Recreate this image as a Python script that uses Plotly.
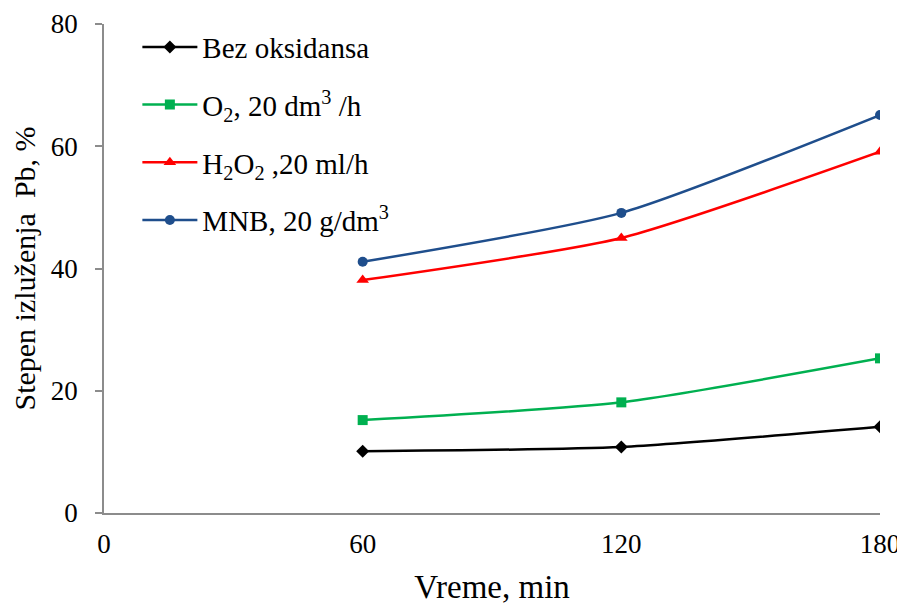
import plotly.graph_objects as go

time_min = [60, 120, 180]
bez_oksidansa = [10.1, 10.8, 14.1]
o2 = [15.2, 18.1, 25.3]
h2o2 = [38.1, 45.0, 59.1]
mnb = [41.1, 49.1, 65.1]

names = [
    "Bez oksidansa",
    "O<sub>2</sub>, 20 dm<sup>3</sup> /h",
    "H<sub>2</sub>O<sub>2</sub> ,20 ml/h",
    "MNB, 20 g/dm<sup>3</sup>",
]
series = [bez_oksidansa, o2, h2o2, mnb]
colors = ["#000000", "#00B050", "#FF0000", "#1F4E8C"]
symbols = ["diamond", "square", "triangle-up", "circle"]
sizes = [10, 10, 11, 10]

x_ticks = [0, 60, 120, 180]
y_ticks = [0, 20, 40, 60, 80]

fig = go.Figure()
for i, (nm, ys) in enumerate(zip(names, series)):
    fig.add_trace(go.Scatter(
        x=time_min, y=ys, name=nm, mode="lines+markers",
        line=dict(color=colors[i], width=2.5, shape="spline", smoothing=0.6),
        marker=dict(symbol=symbols[i], size=sizes[i], color=colors[i]),
        legendgroup=f"g{i}",
    ))

font_family = "Liberation Serif"
fig.update_layout(
    width=897, height=597,
    margin=dict(l=96, r=25, t=16, b=92),
    paper_bgcolor="white", plot_bgcolor="white",
    font=dict(family=font_family, size=27, color="black"),
    showlegend=True,
    legend=dict(x=0.043, y=1.005, xanchor="left", yanchor="top",
                bgcolor="rgba(0,0,0,0)", font=dict(family=font_family, size=29),
                itemwidth=55,
                tracegroupgap=17, traceorder="grouped"),
    xaxis=dict(range=[0, 180], tickvals=x_ticks, showgrid=False, zeroline=False,
               showline=True, linecolor="#8c8c8c", linewidth=1.5, automargin=False,
               ticks="", tickfont=dict(family=font_family, size=27), ticklabelstandoff=6,
               title=dict(text="Vreme, min", font=dict(family=font_family, size=33), standoff=18)),
    yaxis=dict(range=[0, 80], tickvals=y_ticks, showgrid=False, zeroline=False,
               showline=True, linecolor="#8c8c8c", linewidth=1.5, automargin=False,
               ticks="outside", ticklen=7, tickcolor="#8c8c8c", tickwidth=1.5,
               tickfont=dict(family=font_family, size=27), ticklabelstandoff=12,
               title=dict(text="Stepen izluženja  Pb, %", font=dict(family=font_family, size=30), standoff=8)),
)

fig.write_html("out.html")
